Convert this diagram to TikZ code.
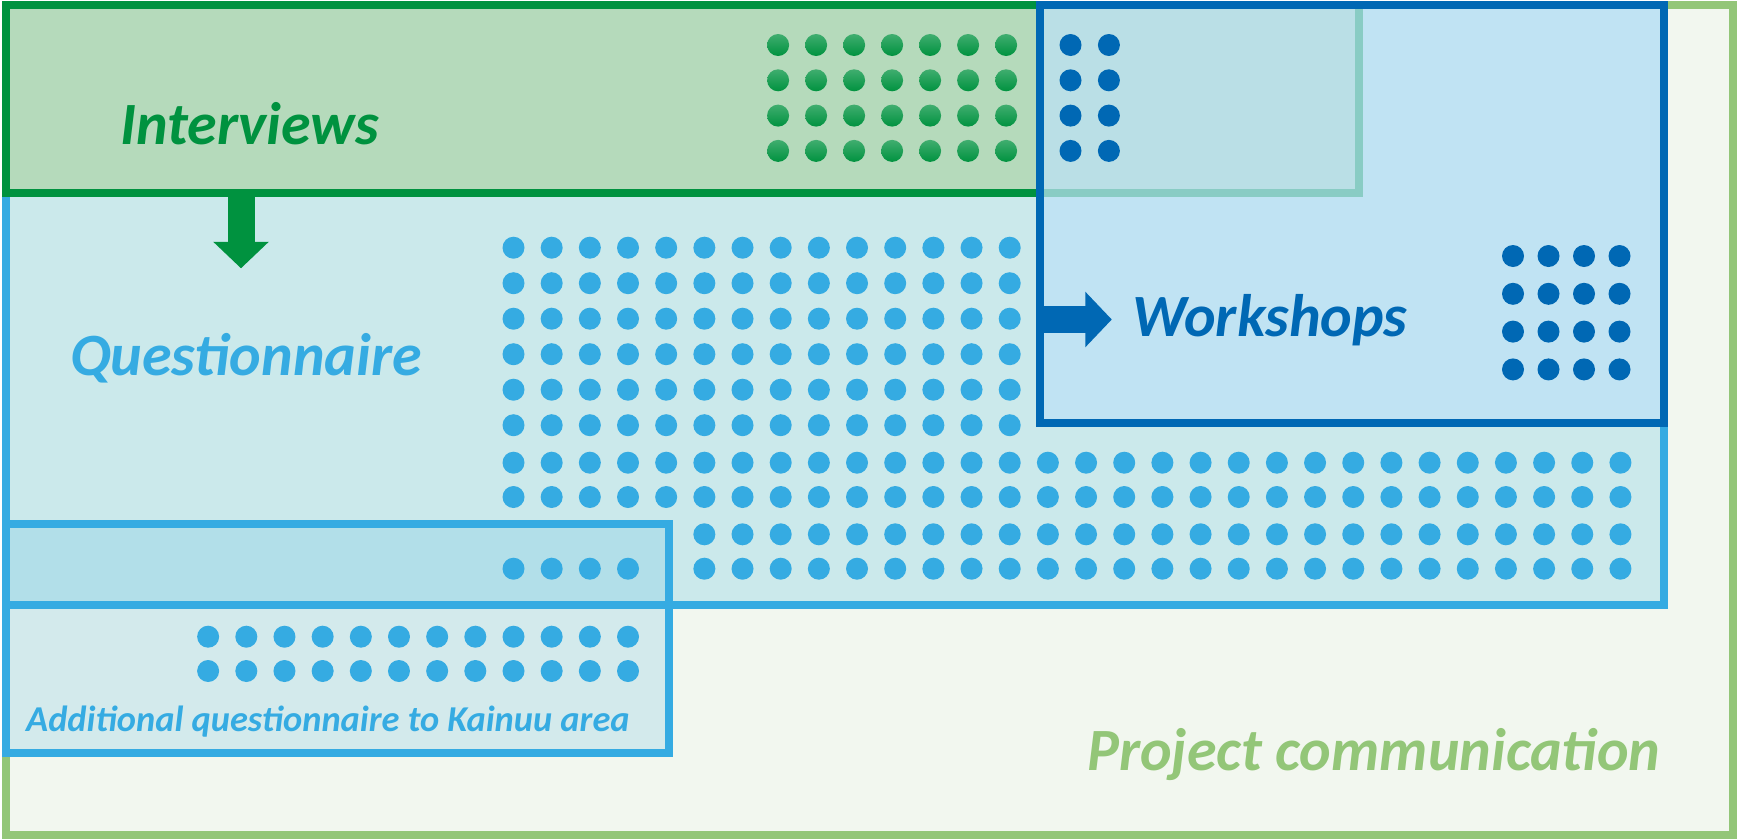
\documentclass[tikz,border=0pt]{standalone}
\usepackage{fontspec}
\setmainfont{Carlito}
\usepackage{tikz}
\usetikzlibrary{arrows.meta, positioning}
\definecolor{projgreen}{RGB}{147,198,120}
\definecolor{projfill}{RGB}{242,247,239}
\definecolor{intgreen}{RGB}{0,146,63}
\definecolor{intfill}{RGB}{181,218,187}
\definecolor{questblue}{RGB}{53,171,226}
\definecolor{questfill}{RGB}{203,233,235}
\definecolor{workblue}{RGB}{0,104,180}
\definecolor{workfill}{RGB}{188,226,246}

\begin{document}
\begin{tikzpicture}[
    x=1pt, y=-1pt,
    box/.style={rectangle, anchor=north west, inner sep=0pt, outer sep=0pt, line width=8pt},
    title/.style={anchor=base west, inner sep=0pt, font=\fontsize{60}{60}\selectfont\bfseries\itshape},
    arrow/.style={-{Triangle[length=26.5pt, width=54pt]}, line width=27pt}
]
    \useasboundingbox (0,0) rectangle (1737,839);

    % boxes
    \node[box, fill=projfill, draw=projgreen, minimum width=1727.5pt, minimum height=830pt] (project) at (5.5,5) {};
    \node[box, fill=questfill, draw=questblue, minimum width=1658pt, minimum height=600pt] (quest) at (5.5,5) {};
    \node[box, fill=questblue, fill opacity=0.16, draw=questblue, minimum width=663.5pt, minimum height=228.5pt] (additional) at (5.5,524) {};
    \node[box, fill=intfill, draw=intgreen, minimum width=1353pt, minimum height=188pt] (interviews) at (5.5,5) {};
    \node[box, fill=workfill, fill opacity=0.73, draw=workblue, minimum width=624pt, minimum height=418pt] (workshops) at (1039.5,5) {};

    % dots
    \foreach \i in {0,...,6}
        \foreach \j in {0,...,3}
            \shade[top color=intgreen!75!white, bottom color=intgreen] (778.1+38*\i, 45+35.3*\j) circle[radius=11pt];
    \foreach \i in {0,1}
        \foreach \j in {0,...,3}
            \fill[workblue] (1070.5+38.4*\i, 45+35.3*\j) circle[radius=11pt];
    \foreach \i in {0,...,3}
        \foreach \j in {0,...,3}
            \fill[workblue] (1513+35.5*\i, 256+37.8*\j) circle[radius=11pt];
    \foreach \i in {0,...,13}
        \foreach \j in {0,...,5}
            \fill[questblue] (513.5+38.17*\i, 247.7+35.5*\j) circle[radius=11pt];
    \foreach \i in {0,...,29}
        \foreach \y in {462.7,497}
            \fill[questblue] (513.5+38.17*\i, \y) circle[radius=11pt];
    \foreach \i in {5,...,29}
        \foreach \y in {534.3,568.7}
            \fill[questblue] (513.5+38.17*\i, \y) circle[radius=11pt];
    \foreach \i in {0,...,3}
        \fill[questblue] (513.5+38.17*\i, 568.7) circle[radius=11pt];
    \foreach \i in {-8,...,3}
        \foreach \y in {636.7,671}
            \fill[questblue] (513.5+38.17*\i, \y) circle[radius=11pt];

    % arrows
    \coordinate (qin) at (241,268.3);
    \coordinate (win) at (1111.8,319.5);
    \draw[arrow, intgreen] (interviews.south -| qin) -- (qin);
    \draw[arrow, workblue] (workshops.west |- win) -- (win);

    % labels
    \node[title, text=intgreen] (intlabel) at (120,144) {Interviews};
    \node[title, text=workblue] (worklabel) at (1132,336) {Workshops};
    \node[title, text=questblue] (questlabel) at (70,375) {Questionnaire};
    \node[title, text=projgreen] (projlabel) at (1087,770) {Project communication};
    \node[title, font=\fontsize{36.4}{37}\selectfont\bfseries\itshape, text=questblue] (addlabel) at (26,731.7) {Additional questionnaire to Kainuu area};
\end{tikzpicture}
\end{document}
